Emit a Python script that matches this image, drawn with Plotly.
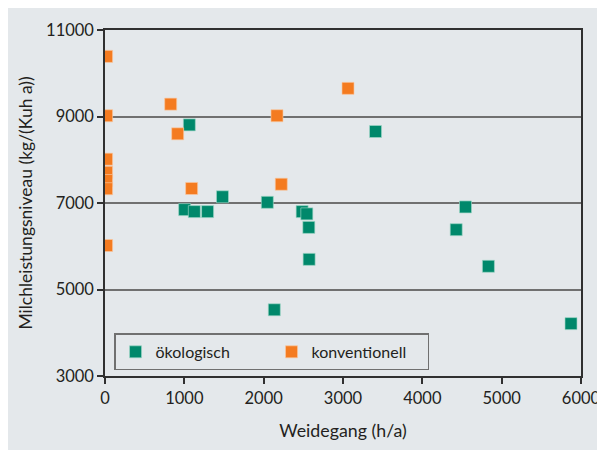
import plotly.graph_objects as go

# Data
oeko_x = [1063, 3410, 1481, 2046, 1004, 1126, 1293, 2485, 2544, 2569, 2573, 4544, 4427, 4833, 2134, 5874]
oeko_y = [8806, 8653, 7144, 7016, 6847, 6801, 6801, 6801, 6749, 6436, 5697, 6909, 6383, 5537, 4531, 4211]

konv_x = [20, 828, 20, 2168, 3063, 916, 20, 20, 20, 20, 1092, 2222, 20]
konv_y = [10390, 9286, 9018, 9018, 9651, 8600, 8013, 7710, 7520, 7330, 7336, 7434, 6017]

x_ticks = [0, 1000, 2000, 3000, 4000, 5000, 6000]
y_ticks = [3000, 5000, 7000, 9000, 11000]

GREEN = "#00886B"
ORANGE = "#F47B20"
BG = "#E4E8EB"
TXT = "#231F20"
FONT = "Lato"

fig = go.Figure()
fig.add_trace(go.Scatter(
    x=oeko_x, y=oeko_y, mode="markers", name="ökologisch",
    marker=dict(symbol="square", size=12, color=GREEN,
                line=dict(width=0.8, color="rgba(160,215,200,0.8)")),
))
fig.add_trace(go.Scatter(
    x=konv_x, y=konv_y, mode="markers", name="konventionell",
    marker=dict(symbol="square", size=12, color=ORANGE,
                line=dict(width=0.8, color="rgba(250,200,160,0.8)")),
))

fig.update_layout(
    width=605, height=450,
    margin=dict(l=97, r=30, t=18, b=82),
    paper_bgcolor=BG, plot_bgcolor=BG,
    font=dict(family=FONT, size=16.5, color=TXT),
    showlegend=True,
    legend=dict(
        orientation="h", x=0.019, y=0.123, xanchor="left", yanchor="top",
        bgcolor=BG, bordercolor="#707070", borderwidth=1.5,
        font=dict(family=FONT, size=16, color=TXT),
        entrywidth=111, entrywidthmode="pixels",
    ),
    xaxis=dict(
        range=[0, 6000], tickvals=x_ticks, ticktext=[str(v) for v in x_ticks],
        showgrid=False, zeroline=False,
        showline=True, linecolor="#303030", linewidth=1.5, mirror=True,
        ticks="outside", ticklen=6, tickcolor="#303030", tickwidth=1.5,
        title=dict(text="Weidegang (h/a)", standoff=18, font=dict(family=FONT, size=17.8)),
    ),
    yaxis=dict(
        range=[3000, 11000], tickvals=y_ticks, ticktext=[str(v) for v in y_ticks],
        showgrid=True, gridcolor="#707070", gridwidth=1.5, zeroline=False,
        showline=True, linecolor="#303030", linewidth=1.5, mirror=True,
        ticks="outside", ticklen=6, tickcolor="#303030", tickwidth=1.5,
        title=dict(text="Milchleistungsniveau (kg/(Kuh a))", standoff=9, font=dict(family=FONT, size=17.5)),
    ),
)

fig.write_html("out.html")
